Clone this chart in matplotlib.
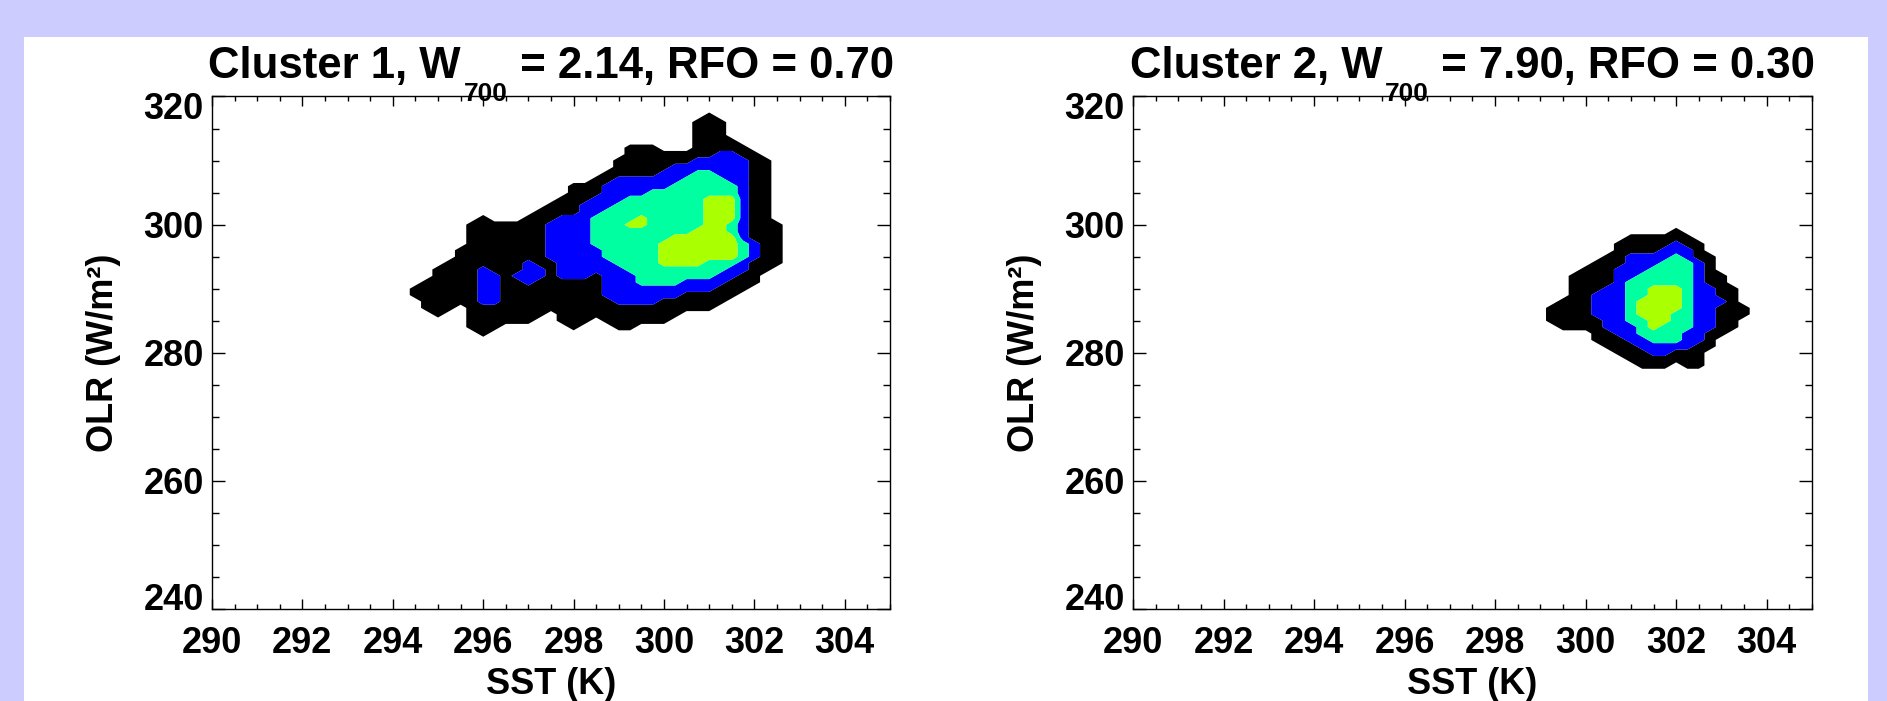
import numpy as np
import matplotlib
matplotlib.use('Agg')
import matplotlib.pyplot as plt
from matplotlib.patches import Rectangle
from matplotlib.ticker import MultipleLocator
from matplotlib.transforms import ScaledTranslation

plt.rcParams['font.family'] = 'Liberation Sans'
plt.rcParams['font.weight'] = 'bold'
plt.rcParams['axes.labelweight'] = 'bold'

# Joint SST/OLR frequency class per grid node (0 = none ... 4 = highest),
# SST every 0.25 K, OLR every 1 W/m2, rows listed from the top OLR down.
sst_c1 = np.arange(294.0, 303.01, 0.25)
olr_c1 = np.arange(318, 281, -1)
freq_c1 = [
    '0000000000 0000000000 0000000000 0000000',
    '0000000000 0000000000 0000000010 0000000',
    '0000000000 0000000000 0000000111 0000000',
    '0000000000 0000000000 0000000111 0000000',
    '0000000000 0000000000 0000000111 0000000',
    '0000000000 0000000000 0000000111 1000000',
    '0000000000 0000000000 0111000111 1100000',
    '0000000000 0000000000 0111111112 2110000',
    '0000000000 0000000000 1111111222 2211000',
    '0000000000 0000000000 1111122222 2211000',
    '0000000000 0000000001 1111222332 2211000',
    '0000000000 0000000011 2222223333 2211000',
    '0000000000 0000001112 2222233333 3211000',
    '0000000000 0000001112 2223333333 3211000',
    '0000000000 0000011122 2333333344 4211000',
    '0000000000 0000111222 3333333344 4211000',
    '0000000000 0001111223 3333333344 4211000',
    '0000000010 0011122233 3343333344 4211000',
    '0000000111 1111222233 3443333344 3211100',
    '0000000111 1111222233 3333333444 3211100',
    '0000000111 1111222233 3333344444 4211100',
    '0000000111 1111222233 3333444444 4321100',
    '0000001111 1111222223 3333444444 4321100',
    '0000001111 1111222223 3333444444 4321100',
    '0000011111 1121122222 3333444433 3211100',
    '0000111121 1122122222 2333333333 2211000',
    '0000111122 1222122212 2233333332 2110000',
    '0001111122 1121111112 2233332222 1110000',
    '0011111122 1111111112 2222222221 1100000',
    '0011111122 1111111112 2222221111 1000000',
    '0001111122 1111111111 2222111111 0000000',
    '0001110111 1111111111 1111111110 0000000',
    '0000100111 1111011111 1111110000 0000000',
    '0000000111 1110011101 1111100000 0000000',
    '0000000111 0000001000 1100000000 0000000',
    '0000000010 0000000000 0000000000 0000000',
    '0000000000 0000000000 0000000000 0000000',
]

sst_c2 = np.arange(298.75, 304.01, 0.25)
olr_c2 = np.arange(300, 276, -1)
freq_c2 = [
    '0000000000 0000000000 00',
    '0000000000 0001000000 00',
    '0000000001 1111100000 00',
    '0000000011 1112110000 00',
    '0000000011 1122210000 00',
    '0000000112 2223211000 00',
    '0000001112 2233321000 00',
    '0000011122 2333321000 00',
    '0000111122 3333321100 00',
    '0000111123 3333321100 00',
    '0000111223 3444322110 00',
    '0000112223 3444322110 00',
    '0001112223 4444322210 00',
    '0011112223 4444322111 00',
    '0011112223 4443322111 00',
    '0011111223 3443322110 00',
    '0001111222 3433322110 00',
    '0000001122 3333221100 00',
    '0000001112 2333221000 00',
    '0000000111 2222211000 00',
    '0000000011 1221110000 00',
    '0000000001 1111110000 00',
    '0000000000 1110110000 00',
    '0000000000 0000000000 00',
]

clusters = ['1', '2']
w700 = ['2.14', '7.90']
rfo = ['0.70', '0.30']

levels = [0.5, 1.5, 2.5, 3.5, 4.5]
fill_colors = ['#000000', '#0000ff', '#00ffa0', '#aaff00']


def to_grid(rows):
    return np.array([[int(c) for c in r.replace(' ', '')] for r in rows], dtype=float)


fig = plt.figure(figsize=(18.87, 7.01), dpi=100, facecolor='#ccccff')
fig.patches.append(Rectangle((24 / 1887, 0), 1844 / 1887, 664 / 701,
                             transform=fig.transFigure, facecolor='white',
                             edgecolor='none', zorder=-1))

ax1 = fig.add_axes([0.11235, 0.13124, 0.3593, 0.7311])
ax2 = fig.add_axes([0.60042, 0.13124, 0.3598, 0.7311])

renderer = fig.canvas.get_renderer()


def width_pt(s, size):
    t = fig.text(0, 0, s, fontsize=size, fontweight='bold')
    w = t.get_window_extent(renderer).width
    t.remove()
    return w * 72 / fig.dpi


def draw_title(ax, head, sub, tail):
    big, small = 31.5, 19
    gap = 2.0
    w1, w2, w3 = width_pt(head, big), width_pt(sub, small), width_pt(tail, big)
    x0 = -(w1 + gap + w2 + w3) / 2
    kw = dict(xy=(0.5, 1.0), xycoords='axes fraction', textcoords='offset points',
              ha='left', va='baseline', fontweight='bold', annotation_clip=False)
    ax.annotate(head, xytext=(x0, 13), fontsize=big, **kw)
    ax.annotate(sub, xytext=(x0 + w1 + gap, -3.2), fontsize=small, **kw)
    ax.annotate(tail, xytext=(x0 + w1 + gap + w2, 13), fontsize=big, **kw)


panels = [(ax1, sst_c1, olr_c1, freq_c1), (ax2, sst_c2, olr_c2, freq_c2)]
for i, (ax, sst, olr, rows) in enumerate(panels):
    z = to_grid(rows)
    ax.contourf(sst, olr[::-1], z[::-1], levels=levels, colors=fill_colors,
                antialiased=True)

    ax.set_xlim(290, 305)
    ax.set_ylim(240, 320)
    ax.xaxis.set_major_locator(MultipleLocator(2))
    ax.xaxis.set_minor_locator(MultipleLocator(0.5))
    ax.yaxis.set_major_locator(MultipleLocator(20))
    ax.yaxis.set_minor_locator(MultipleLocator(5))
    ax.tick_params(which='both', direction='in', top=True, right=True,
                   width=1.0, labelsize=26)
    ax.tick_params(axis='x', which='major', length=7.2, pad=12)
    ax.tick_params(axis='x', which='minor', length=3.6)
    ax.tick_params(axis='y', which='major', length=9.6, pad=6)
    ax.tick_params(axis='y', which='minor', length=4.8)
    for sp in ax.spines.values():
        sp.set_linewidth(1.0)

    ax.set_xlabel('SST (K)', fontsize=26, fontweight='bold')
    ax.set_ylabel('OLR (W/m²)', fontsize=26, fontweight='bold')
    ax.xaxis.set_label_coords(0.5, -0.1132)
    ax.yaxis.set_label_coords(-0.1336, 0.5)

    # keep the end labels of the OLR axis inside the frame
    for tick, loc in zip(ax.yaxis.get_major_ticks(), ax.yaxis.get_majorticklocs()):
        if loc == 240:
            shift = 12.5
        elif loc == 320:
            shift = -9.5
        else:
            continue
        tick.label1.set_transform(tick.label1.get_transform() +
                                  ScaledTranslation(0, shift / 100, fig.dpi_scale_trans))

    draw_title(ax, 'Cluster %s, W' % clusters[i], '700',
               ' = %s, RFO = %s' % (w700[i], rfo[i]))

fig.savefig('out.png', dpi=100, facecolor=fig.get_facecolor())
